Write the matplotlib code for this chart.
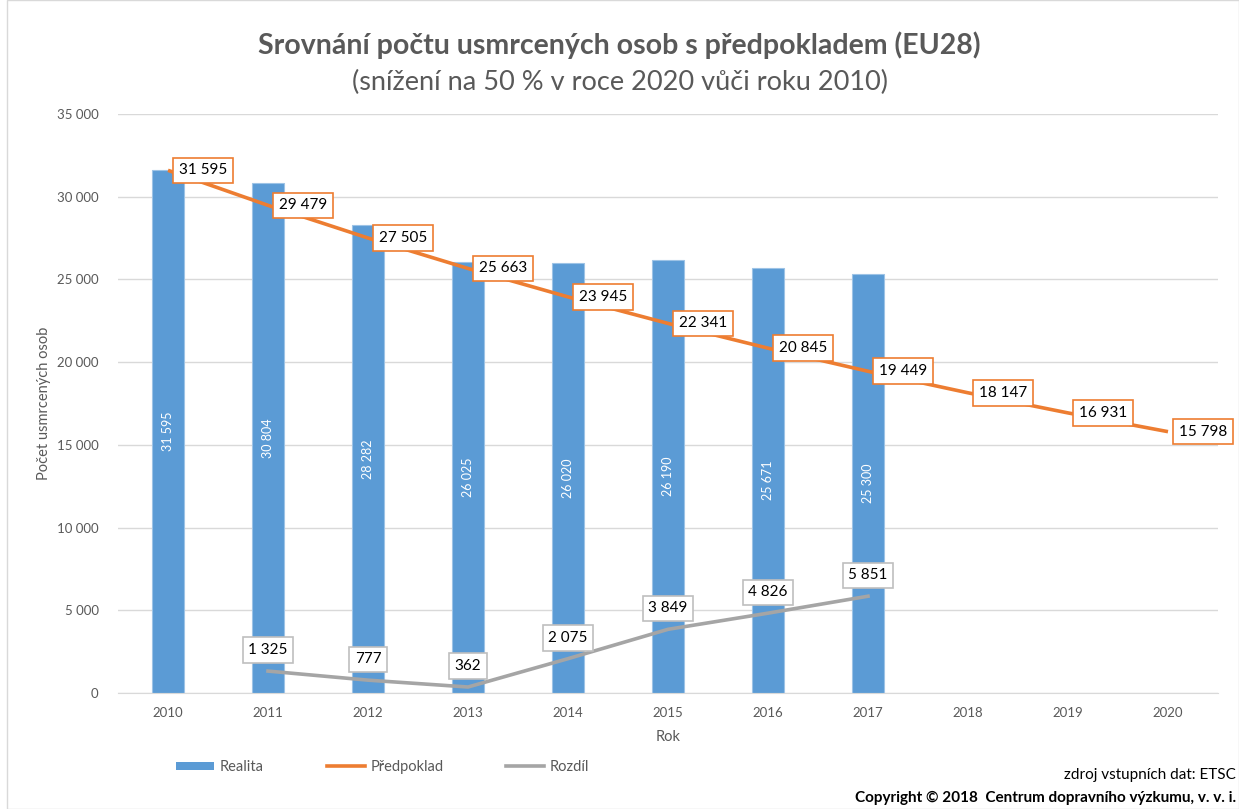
import matplotlib
matplotlib.use('Agg')
from matplotlib import pyplot
from matplotlib.lines import Line2D
from matplotlib.patches import Patch, Rectangle

pyplot.rcParams['font.family'] = ['Lato', 'DejaVu Sans']

# Data
years      = ['2010', '2011', '2012', '2013', '2014', '2015', '2016', '2017', '2018', '2019', '2020']
realita    = [31595, 30804, 28282, 26025, 26020, 26190, 25671, 25300]
predpoklad = [31595, 29479, 27505, 25663, 23945, 22341, 20845, 19449, 18147, 16931, 15798]
rozdil     = [1325, 777, 362, 2075, 3849, 4826, 5851]   # 2011 - 2017

def fmt(v):
    return '{:,}'.format(v).replace(',', ' ')

blue   = '#5B9BD5'
orange = '#ED7D31'
grey   = '#A5A5A5'
txt    = '#595959'

fig = pyplot.figure(figsize=[12.39, 8.09], dpi=100)
ax = fig.add_axes([118/1239, 1 - 693/809, 1100/1239, 579/809])

x_all = list(range(len(years)))

# Bars
ax.bar(x_all[:len(realita)], realita, width=0.32, color=blue,
       edgecolor='#9DC3E6', linewidth=0.8, zorder=2)
for i, v in enumerate(realita):
    ax.text(i, v / 2, fmt(v), rotation=90, color='white', fontsize=9,
            ha='center', va='center', zorder=3)

# Predpoklad line
ax.plot(x_all, predpoklad, color=orange, linewidth=2.6, zorder=4, solid_capstyle='butt')
for i, v in enumerate(predpoklad):
    ax.annotate(fmt(v), (i, v), xytext=(8, 0), textcoords='offset points',
                ha='left', va='center', fontsize=11, color='black', zorder=6,
                bbox=dict(boxstyle='square,pad=0.38', fc='white', ec=orange, lw=1.2))

# Rozdil line
x_r = x_all[1:1 + len(rozdil)]
ax.plot(x_r, rozdil, color=grey, linewidth=2.6, zorder=4)
for i, v in zip(x_r, rozdil):
    ax.annotate(fmt(v), (i, v), xytext=(0, 15), textcoords='offset points',
                ha='center', va='center', fontsize=11, color='black', zorder=6,
                bbox=dict(boxstyle='square,pad=0.38', fc='white', ec='#BFBFBF', lw=1.2))

# Axes
ax.set_xlim(-0.5, len(years) - 0.5)
ax.set_ylim(0, 35000)
ax.set_xticks(x_all)
ax.set_xticklabels(years)
ax.set_yticks(range(0, 35001, 5000))
ax.set_yticklabels([fmt(v) for v in range(0, 35001, 5000)])
ax.tick_params(axis='both', length=0, labelsize=9.5, colors=txt)
ax.tick_params(axis='y', pad=14)
ax.tick_params(axis='x', pad=10)

ax.set_axisbelow(True)
ax.yaxis.grid(True, color='#D9D9D9', linewidth=1)
for s in ['top', 'right', 'left']:
    ax.spines[s].set_visible(False)
ax.spines['bottom'].set_color('#D9D9D9')

ax.set_xlabel('Rok', fontsize=10.5, color=txt, labelpad=8)
ax.set_ylabel('Počet usmrcených osob', fontsize=10.5, color=txt, labelpad=4)

# Titles
fig.text(0.5, 1 - 45/809, 'Srovnání počtu usmrcených osob s předpokladem (EU28)',
         ha='center', va='center', fontsize=20.5, fontweight='bold', color=txt)
fig.text(0.5, 1 - 82/809, '(snížení na 50 % v roce 2020 vůči roku 2010)',
         ha='center', va='center', fontsize=19.5, color=txt)

# Legend
handles = [Patch(facecolor=blue, edgecolor='none'),
           Line2D([], [], color=orange, linewidth=2.6),
           Line2D([], [], color=grey, linewidth=2.6)]
leg = fig.legend(handles, ['Realita', 'Předpoklad', 'Rozdíl'],
                 loc='center left', bbox_to_anchor=(163/1239, 1 - 767/809),
                 ncol=3, frameon=False, fontsize=10.5, handlelength=2.6,
                 handleheight=0.45, handletextpad=0.4, columnspacing=4.3)
for t in leg.get_texts():
    t.set_color(txt)

# Source / copyright
fig.text(1236/1239, 1 - 775/809, 'zdroj vstupních dat: ETSC',
         ha='right', va='center', fontsize=11, color='black')
fig.text(1236/1239, 1 - 798/809, 'Copyright © 2018  Centrum dopravního výzkumu, v. v. i.',
         ha='right', va='center', fontsize=11, fontweight='bold', color='black')

# Chart border
fig.patches.append(Rectangle((7/1239, 0), 1 - 7/1239, 1, transform=fig.transFigure,
                             fill=False, edgecolor='#D9D9D9', linewidth=1))

fig.savefig('out.png')
